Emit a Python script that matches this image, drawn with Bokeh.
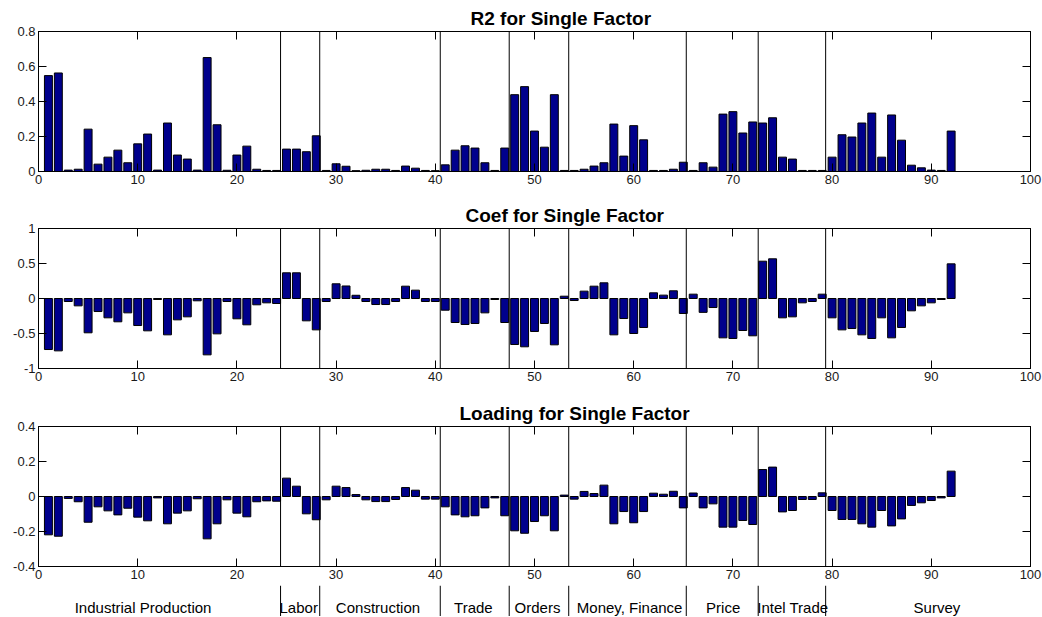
from bokeh.plotting import figure
from bokeh.models import (Range1d, LinearAxis, FixedTicker, CustomJSTickFormatter,
                          Span, Arrow, ColumnDataSource)
from bokeh.layouts import column
from bokeh.embed import file_html
from bokeh.resources import INLINE
from bokeh.core.properties import value

# ---------------- data ----------------
series_index = list(range(1, 93))

r2 = [0.548, 0.563, 0.008, 0.013, 0.242, 0.042, 0.082, 0.122, 0.050, 0.158,
      0.214, 0.008, 0.277, 0.094, 0.071, 0.008, 0.651, 0.267, 0.007, 0.094,
      0.145, 0.013, 0.006, 0.006, 0.128, 0.128, 0.113, 0.204, 0.006, 0.044,
      0.030, 0.005, 0.007, 0.013, 0.013, 0.006, 0.031, 0.019, 0.006, 0.005,
      0.038, 0.122, 0.147, 0.134, 0.050, 0.006, 0.134, 0.439, 0.485, 0.231,
      0.139, 0.439, 0.006, 0.006, 0.013, 0.031, 0.050, 0.271, 0.088, 0.262,
      0.181, 0.006, 0.006, 0.013, 0.053, 0.006, 0.050, 0.025, 0.328, 0.342,
      0.220, 0.283, 0.277, 0.307, 0.082, 0.071, 0.006, 0.006, 0.006, 0.082,
      0.210, 0.197, 0.277, 0.334, 0.082, 0.323, 0.179, 0.036, 0.021, 0.008,
      0.006, 0.231]

coef = [-0.729, -0.748, -0.043, -0.105, -0.490, -0.186, -0.276, -0.333, -0.205, -0.386,
        -0.462, -0.014, -0.519, -0.305, -0.262, -0.033, -0.805, -0.505, -0.043, -0.290,
        -0.376, -0.090, -0.062, -0.071, 0.367, 0.367, -0.319, -0.448, -0.043, 0.210,
        0.179, 0.046, -0.043, -0.086, -0.086, -0.043, 0.176, 0.119, -0.043, -0.043,
        -0.167, -0.343, -0.371, -0.357, -0.205, -0.014, -0.343, -0.657, -0.690, -0.471,
        -0.357, -0.662, 0.033, -0.029, 0.105, 0.176, 0.224, -0.519, -0.286, -0.500,
        -0.414, 0.081, 0.048, 0.110, -0.214, 0.062, -0.198, -0.129, -0.562, -0.571,
        -0.457, -0.533, 0.533, 0.567, -0.276, -0.262, -0.062, -0.043, 0.062, -0.276,
        -0.448, -0.429, -0.519, -0.571, -0.276, -0.562, -0.414, -0.176, -0.105, -0.062,
        -0.014, 0.495]

loading = [-0.219, -0.227, -0.011, -0.030, -0.147, -0.059, -0.082, -0.105, -0.067, -0.118,
           -0.139, -0.008, -0.156, -0.095, -0.082, -0.013, -0.242, -0.156, -0.019, -0.095,
           -0.116, -0.030, -0.025, -0.027, 0.105, 0.059, -0.099, -0.133, -0.019, 0.059,
           0.051, 0.011, -0.019, -0.029, -0.029, -0.017, 0.051, 0.036, -0.015, -0.015,
           -0.059, -0.105, -0.116, -0.110, -0.065, -0.008, -0.110, -0.196, -0.210, -0.143,
           -0.110, -0.196, 0.008, -0.015, 0.029, 0.017, 0.065, -0.156, -0.086, -0.150,
           -0.086, 0.019, 0.013, 0.030, -0.065, 0.020, -0.065, -0.042, -0.175, -0.175,
           -0.137, -0.160, 0.154, 0.168, -0.088, -0.080, -0.017, -0.017, 0.021, -0.080,
           -0.131, -0.131, -0.156, -0.175, -0.080, -0.168, -0.128, -0.051, -0.036, -0.023,
           -0.008, 0.145]

group_names = ["Industrial Production", "Labor", "Construction", "Trade", "Orders",
               "Money, Finance", "Price", "Intel Trade", "Survey"]
group_label_x = [10.54, 26.23, 34.22, 43.84, 50.30, 59.59, 69.02, 76.04, 90.57]
group_separators = [24.4, 28.35, 40.5, 47.45, 53.45, 65.3, 72.55, 79.35]

x_ticks = [0, 10, 20, 30, 40, 50, 60, 70, 80, 90, 100]
r2_ticks = [0, 0.2, 0.4, 0.6, 0.8]
coef_ticks = [-1, -0.5, 0, 0.5, 1]
loading_ticks = [-0.4, -0.2, 0, 0.2, 0.4]

titles = ["R2 for Single Factor", "Coef for Single Factor", "Loading for Single Factor"]

# ---------------- style ----------------
FONT = "Liberation Sans"
BAR_COLOR = "#00008C"
FRAME_W = 992
FRAME_H = 140
LEFT = 38
RIGHT = 12

x_range = Range1d(0, 100)
fmt = CustomJSTickFormatter(code="return String(tick);")
blank_fmt = CustomJSTickFormatter(code="return '';")


def style_axis(ax, ticks, show_labels):
    ax.ticker = FixedTicker(ticks=ticks)
    ax.major_tick_in = 8
    ax.major_tick_out = 0
    ax.minor_tick_line_color = None
    ax.axis_line_color = "black"
    ax.major_tick_line_color = "black"
    if show_labels:
        ax.formatter = fmt
        ax.major_label_text_font = FONT
        ax.major_label_text_font_size = "13px"
        ax.major_label_text_color = "#1a1a1a"
        ax.major_label_standoff = 3
    else:
        ax.formatter = blank_fmt
        ax.major_label_text_color = None
        ax.major_label_text_font_size = "1px"
        ax.major_label_standoff = 0


def make_panel(vals, yr, yticks, title, title_offset, top_b, bottom_b):
    p = figure(frame_width=FRAME_W, frame_height=FRAME_H, x_range=x_range,
               y_range=Range1d(yr[0], yr[1]), output_backend="svg",
               toolbar_location=None, min_border_left=LEFT, min_border_right=RIGHT,
               min_border_top=top_b, min_border_bottom=bottom_b,
               background_fill_color="white", border_fill_color="white")
    p.title.text = title
    p.title.align = "left"
    p.title.offset = title_offset
    p.title.text_font = FONT
    p.title.text_font_style = "bold"
    p.title.text_font_size = "19px"
    p.title.text_color = "black"
    p.title.standoff = 6
    p.xgrid.visible = False
    p.ygrid.visible = False
    p.outline_line_color = "black"
    style_axis(p.xaxis[0], x_ticks, True)
    style_axis(p.yaxis[0], yticks, True)
    top_ax = LinearAxis()
    style_axis(top_ax, x_ticks, False)
    p.add_layout(top_ax, "above")
    right_ax = LinearAxis()
    style_axis(right_ax, yticks, False)
    p.add_layout(right_ax, "right")
    src = ColumnDataSource(dict(x=series_index, top=vals))
    p.vbar(x="x", top="top", bottom=0, width=0.8, source=src,
           fill_color=BAR_COLOR, line_color="black", line_width=1)
    return p


p1 = make_panel(r2, (0, 0.8), r2_ticks, titles[0], 432, 31, 27)
p2 = make_panel(coef, (-1, 1), coef_ticks, titles[1], 427, 30, 28)
p3 = make_panel(loading, (-0.4, 0.4), loading_ticks, titles[2], 421, 30, 19)

for p in (p1, p2):
    for s in group_separators:
        p.add_layout(Span(location=s, dimension="height", line_color="black", line_width=1))

for s in group_separators:
    p3.add_layout(Arrow(end=None, x_start=s, y_start=0.4, x_end=s, y_end=-0.56,
                        line_color="black", line_width=1))

# label strip below the bottom panel
p4 = figure(frame_width=FRAME_W, frame_height=31, x_range=x_range, y_range=Range1d(0, 31),
            output_backend="svg", toolbar_location=None, min_border_left=LEFT,
            min_border_right=RIGHT, min_border_top=0, min_border_bottom=0,
            background_fill_color="white", border_fill_color="white")
p4.axis.visible = False
p4.xgrid.visible = False
p4.ygrid.visible = False
p4.outline_line_color = None
for s in group_separators:
    p4.add_layout(Span(location=s, dimension="height", line_color="black", line_width=1))
lab_src = ColumnDataSource(dict(x=group_label_x, y=[9] * len(group_names), text=group_names))
p4.text(x="x", y="y", text="text", source=lab_src, text_font=value(FONT),
        text_font_size="15px", text_align="center", text_baseline="middle",
        text_color="black")

layout = column(p1, p2, p3, p4, spacing=0)

with open("out.html", "w") as f:
    f.write(file_html(layout, INLINE))
